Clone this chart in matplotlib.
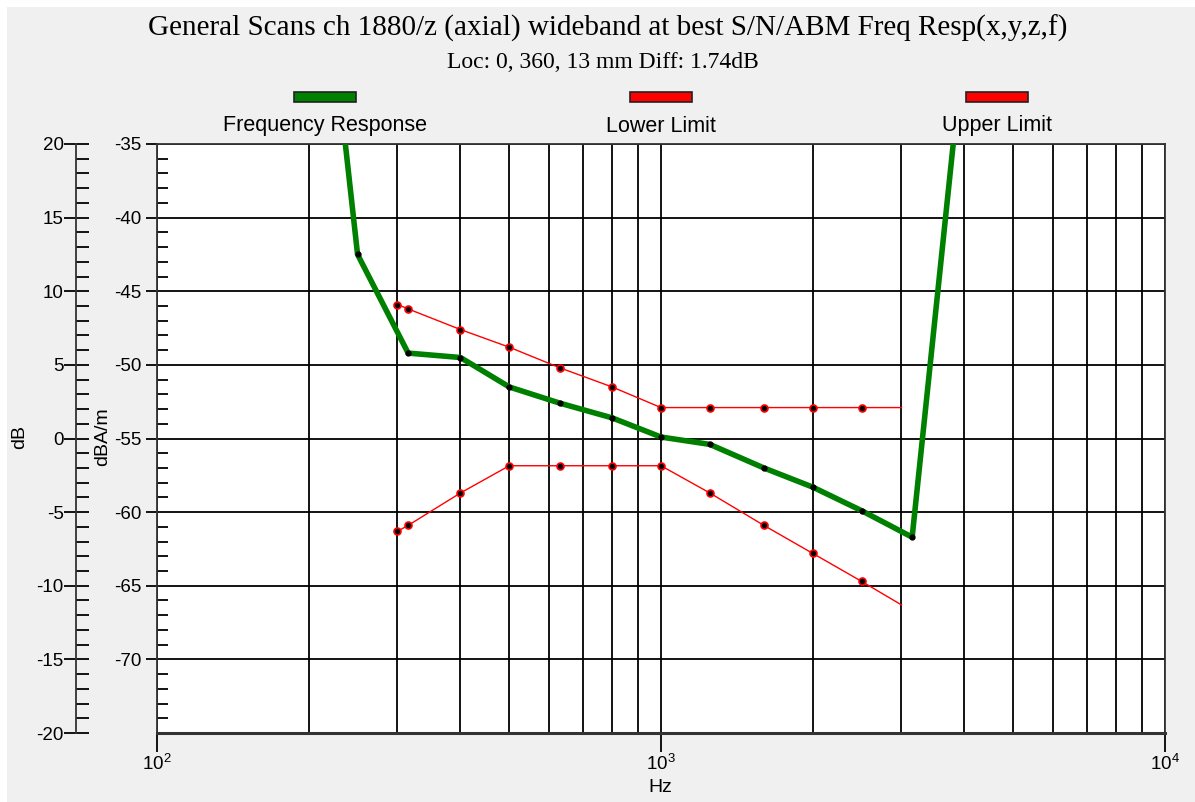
import numpy as np
import matplotlib
matplotlib.use("Agg")
import matplotlib.pyplot as plt
from matplotlib.patches import Rectangle
from matplotlib.ticker import MultipleLocator, FixedLocator, LogLocator, NullFormatter

# frequency response (dBA/m)
resp_f = [200, 250, 315, 400, 500, 630, 800, 1000, 1250, 1600, 2000, 2500, 3150, 4000]
resp_v = [-12.5, -42.5, -49.2, -49.5, -51.5, -52.6, -53.6, -54.9, -55.4, -57.0, -58.3, -59.9, -61.7, -27.7]

# limit lines
lim_f = [300, 315, 400, 500, 630, 800, 1000, 1250, 1600, 2000, 2500, 3000]
upper_v = [-45.9, -46.2, -47.6, -48.8, -50.2, -51.5, -52.9, -52.9, -52.9, -52.9, -52.9, -52.9]
lower_v = [-61.3, -60.9, -58.7, -56.85, -56.85, -56.85, -56.85, -58.7, -60.9, -62.8, -64.7, -66.3]

legend_names = ["Frequency Response", "Lower Limit", "Upper Limit"]
legend_colors = ["#008000", "#ff0000", "#ff0000"]

plt.rcParams['font.family'] = ['Liberation Sans', 'DejaVu Sans']
plt.rcParams['axes.unicode_minus'] = False

W, H = 1195, 802
fig = plt.figure(figsize=(W / 100, H / 100), dpi=100, facecolor="#f0f0f0")

# white window edge on the top/left
fig.patches.append(Rectangle((0, 1 - 7 / H), 1, 7 / H, transform=fig.transFigure,
                             facecolor="white", edgecolor="none", zorder=0))
fig.patches.append(Rectangle((0, 0), 7 / W, 1, transform=fig.transFigure,
                             facecolor="white", edgecolor="none", zorder=0))

ax = fig.add_axes([157 / W, (H - 733) / H, 1008 / W, 589 / H])
ax.set_facecolor("white")

ax.plot(resp_f, resp_v, color="#008000", lw=4.0, solid_joinstyle="round", zorder=3,
        marker="o", ms=3.5, mfc="black", mec="black")
ax.plot(lim_f, upper_v, color="#ff0000", lw=1.0, zorder=4, marker="o", ms=5,
        mfc="black", mec="#ff0000", mew=1.2, markevery=slice(0, -1))
ax.plot(lim_f, lower_v, color="#ff0000", lw=1.0, zorder=4, marker="o", ms=5,
        mfc="black", mec="#ff0000", mew=1.2, markevery=slice(0, -1))

ax.set_xscale("log")
ax.set_xlim(100, 10000)
ax.set_ylim(-75, -35)

ax.yaxis.set_major_locator(FixedLocator(np.arange(-70, -34, 5)))
ax.yaxis.set_minor_locator(MultipleLocator(1))
ax.xaxis.set_major_locator(LogLocator(base=10, numticks=5))
ax.xaxis.set_minor_locator(LogLocator(base=10, subs=np.arange(2, 10), numticks=20))
ax.xaxis.set_minor_formatter(NullFormatter())

ax.grid(True, which="major", axis="y", color="black", lw=1.3)
ax.grid(True, which="both", axis="x", color="black", lw=1.3)
ax.set_axisbelow(True)

ax.tick_params(axis="y", which="major", direction="out", length=8, width=1.3,
               labelsize=13.5, pad=3)
ax.tick_params(axis="y", which="minor", direction="in", length=8, width=1.3)
ax.tick_params(axis="x", which="major", direction="out", length=14, width=1.3,
               labelsize=13.5, pad=1)
ax.tick_params(axis="x", which="minor", length=0)

for s in ax.spines.values():
    s.set_color("#333333")
    s.set_linewidth(1.3)
ax.spines["bottom"].set_linewidth(2.2)

# second scale in dB
sec = ax.secondary_yaxis((76 - 157) / 1008, functions=(lambda v: v + 55, lambda v: v - 55))
sec.yaxis.set_major_locator(FixedLocator(np.arange(-20, 21, 5)))
sec.yaxis.set_minor_locator(MultipleLocator(1))
sec.tick_params(axis="y", which="major", direction="inout", length=18, width=1.3,
                labelsize=13.5, pad=0)
sec.tick_params(axis="y", which="minor", direction="in", length=9, width=1.3)
sec.spines["left"].set_linewidth(1.3)
sec.spines["left"].set_color("#333333")

# titles
fig.text(608 / W, 1 - 28 / H, "General Scans ch 1880/z (axial) wideband at best S/N/ABM Freq Resp(x,y,z,f)",
         family="Liberation Serif", fontsize=21, ha="center", va="center")
fig.text(603 / W, 1 - 62 / H, "Loc: 0, 360, 13 mm Diff: 1.74dB",
         family="Liberation Serif", fontsize=17, ha="center", va="center")

# axis labels
fig.text(20 / W, 1 - 437 / H, "dB", rotation=90, fontsize=14, ha="center", va="center")
fig.text(103 / W, 1 - 437 / H, "dBA/m", rotation=90, fontsize=14, ha="center", va="center")
fig.text(660 / W, 1 - 787 / H, "Hz", fontsize=14, ha="center", va="center")

# legend: swatch above each label
for cx, name, col in zip([325, 661, 997], legend_names, legend_colors):
    fig.patches.append(Rectangle(((cx - 31) / W, 1 - 102 / H), 62 / W, 10 / H,
                                 transform=fig.transFigure, facecolor=col,
                                 edgecolor="#222222", lw=1.2))
    fig.text(cx / W, 1 - 126 / H, name, fontsize=15.5, ha="center", va="center")

fig.savefig("out.png", dpi=100, facecolor=fig.get_facecolor())
